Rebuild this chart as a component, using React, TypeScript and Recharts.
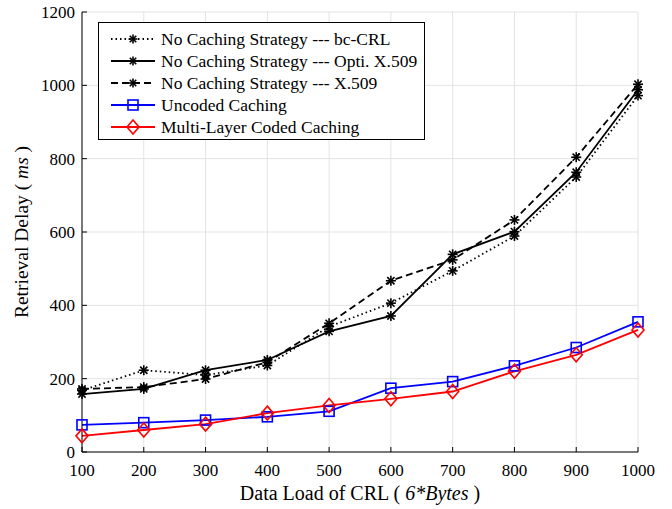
import React from "react";
import { LineChart, Line, XAxis, YAxis, CartesianGrid } from "recharts";

const loads = [100, 200, 300, 400, 500, 600, 700, 800, 900, 1000];
const bcCrl = [168, 223, 210, 236, 342, 406, 494, 589, 750, 972];
const optiX509 = [158, 172, 223, 251, 329, 371, 539, 601, 763, 988];
const x509 = [172, 177, 199, 245, 351, 467, 524, 633, 804, 1003];
const uncoded = [74, 80, 87, 96, 111, 174, 192, 235, 285, 355];
const multiLayer = [44, 60, 76, 106, 127, 145, 165, 220, 265, 333];
const yTicks = [0, 200, 400, 600, 800, 1000, 1200];

const data = loads.map((load, i) => ({
  load,
  bc: bcCrl[i],
  opti: optiX509[i],
  x509: x509[i],
  uncoded: uncoded[i],
  multi: multiLayer[i],
}));

const FONT = "'Liberation Serif', 'Times New Roman', serif";

function Star({ cx, cy, r = 5 }: { cx: number; cy: number; r?: number }) {
  const d = r * 0.72;
  return (
    <g stroke="#000" strokeWidth={1.6}>
      <line x1={cx - r} y1={cy} x2={cx + r} y2={cy} />
      <line x1={cx} y1={cy - r} x2={cx} y2={cy + r} />
      <line x1={cx - d} y1={cy - d} x2={cx + d} y2={cy + d} />
      <line x1={cx - d} y1={cy + d} x2={cx + d} y2={cy - d} />
    </g>
  );
}

function Square({ cx, cy }: { cx: number; cy: number }) {
  return <rect x={cx - 5} y={cy - 5} width={10} height={10} fill="none" stroke="#0000ff" strokeWidth={1.6} />;
}

function Diamond({ cx, cy }: { cx: number; cy: number }) {
  return (
    <polygon
      points={`${cx},${cy - 7} ${cx + 6},${cy} ${cx},${cy + 7} ${cx - 6},${cy}`}
      fill="none"
      stroke="#ff0000"
      strokeWidth={1.6}
    />
  );
}

const legendItems = [
  { label: "No Caching Strategy --- bc-CRL", color: "#000", dash: "1.5 3", marker: "star" },
  { label: "No Caching Strategy --- Opti. X.509", color: "#000", dash: undefined, marker: "star" },
  { label: "No Caching Strategy --- X.509", color: "#000", dash: "7 4", marker: "star" },
  { label: "Uncoded Caching", color: "#0000ff", dash: undefined, marker: "square" },
  { label: "Multi-Layer Coded Caching", color: "#ff0000", dash: undefined, marker: "diamond" },
];

export default function App() {
  return (
    <div style={{ position: "absolute", left: 0, top: 0, width: 672, height: 509, background: "#fff", fontFamily: FONT }}>
      <LineChart width={672} height={509} data={data} margin={{ top: 12, right: 34, left: 0, bottom: 0 }}>
        <CartesianGrid stroke="#e3e3e3" strokeWidth={1} />
        <XAxis
          dataKey="load"
          type="number"
          domain={[100, 1000]}
          ticks={loads}
          height={57}
          tickSize={-5}
          tickMargin={17}
          stroke="#000"
          tick={{ fill: "#000", fontSize: 17, fontFamily: FONT }}
          axisLine={{ stroke: "#000", strokeWidth: 1 }}
        />
        <XAxis
          xAxisId="top"
          orientation="top"
          dataKey="load"
          type="number"
          domain={[100, 1000]}
          ticks={loads}
          height={0}
          tickSize={-5}
          tickFormatter={() => ""}
          stroke="#000"
        />
        <YAxis
          type="number"
          domain={[0, 1200]}
          ticks={yTicks}
          width={82}
          tickSize={-5}
          tickMargin={12}
          stroke="#000"
          tick={{ fill: "#000", fontSize: 17, fontFamily: FONT }}
        />
        <YAxis
          yAxisId="right"
          orientation="right"
          type="number"
          domain={[0, 1200]}
          ticks={yTicks}
          width={0}
          tickSize={-5}
          tickFormatter={() => ""}
          stroke="#000"
        />
        <Line
          dataKey="bc"
          stroke="#000"
          strokeWidth={1.8}
          strokeDasharray="1.5 3"
          isAnimationActive={false}
          dot={(p: any) => <Star key={`bc${p.index}`} cx={p.cx} cy={p.cy} />}
        />
        <Line
          dataKey="opti"
          stroke="#000"
          strokeWidth={1.8}
          isAnimationActive={false}
          dot={(p: any) => <Star key={`op${p.index}`} cx={p.cx} cy={p.cy} />}
        />
        <Line
          dataKey="x509"
          stroke="#000"
          strokeWidth={1.8}
          strokeDasharray="7 4"
          isAnimationActive={false}
          dot={(p: any) => <Star key={`x5${p.index}`} cx={p.cx} cy={p.cy} />}
        />
        <Line
          dataKey="uncoded"
          stroke="#0000ff"
          strokeWidth={1.8}
          isAnimationActive={false}
          dot={(p: any) => <Square key={`un${p.index}`} cx={p.cx} cy={p.cy} />}
        />
        <Line
          dataKey="multi"
          stroke="#ff0000"
          strokeWidth={1.8}
          isAnimationActive={false}
          dot={(p: any) => <Diamond key={`ml${p.index}`} cx={p.cx} cy={p.cy} />}
        />
      </LineChart>

      <div
        style={{
          position: "absolute",
          left: 98,
          top: 22,
          width: 327,
          height: 118,
          border: "1px solid #000",
          background: "#fff",
          boxSizing: "border-box",
        }}
      >
        {legendItems.map((it, i) => (
          <div key={it.label} style={{ position: "absolute", left: 0, top: 5 + i * 22, height: 22, display: "flex", alignItems: "center" }}>
            <svg width={62} height={22} style={{ display: "block" }}>
              <line x1={12} y1={11} x2={56} y2={11} stroke={it.color} strokeWidth={1.8} strokeDasharray={it.dash} />
              {it.marker === "star" && <Star cx={34} cy={11} r={4.5} />}
              {it.marker === "square" && <Square cx={34} cy={11} />}
              {it.marker === "diamond" && <Diamond cx={34} cy={11} />}
            </svg>
            <span style={{ fontSize: 17.5, color: "#000", whiteSpace: "nowrap", fontFamily: FONT }}>{it.label}</span>
          </div>
        ))}
      </div>

      <div style={{ position: "absolute", left: 0, width: 720, top: 482, textAlign: "center", fontSize: 20, color: "#000" }}>
        Data Load of CRL ( <i>6*Bytes</i> )
      </div>
      <div
        style={{
          position: "absolute",
          left: 22,
          top: 232,
          transform: "translate(-50%, -50%) rotate(-90deg)",
          fontSize: 19.5,
          whiteSpace: "nowrap",
          color: "#000",
        }}
      >
        Retrieval Delay ( <i>ms</i> )
      </div>
    </div>
  );
}
